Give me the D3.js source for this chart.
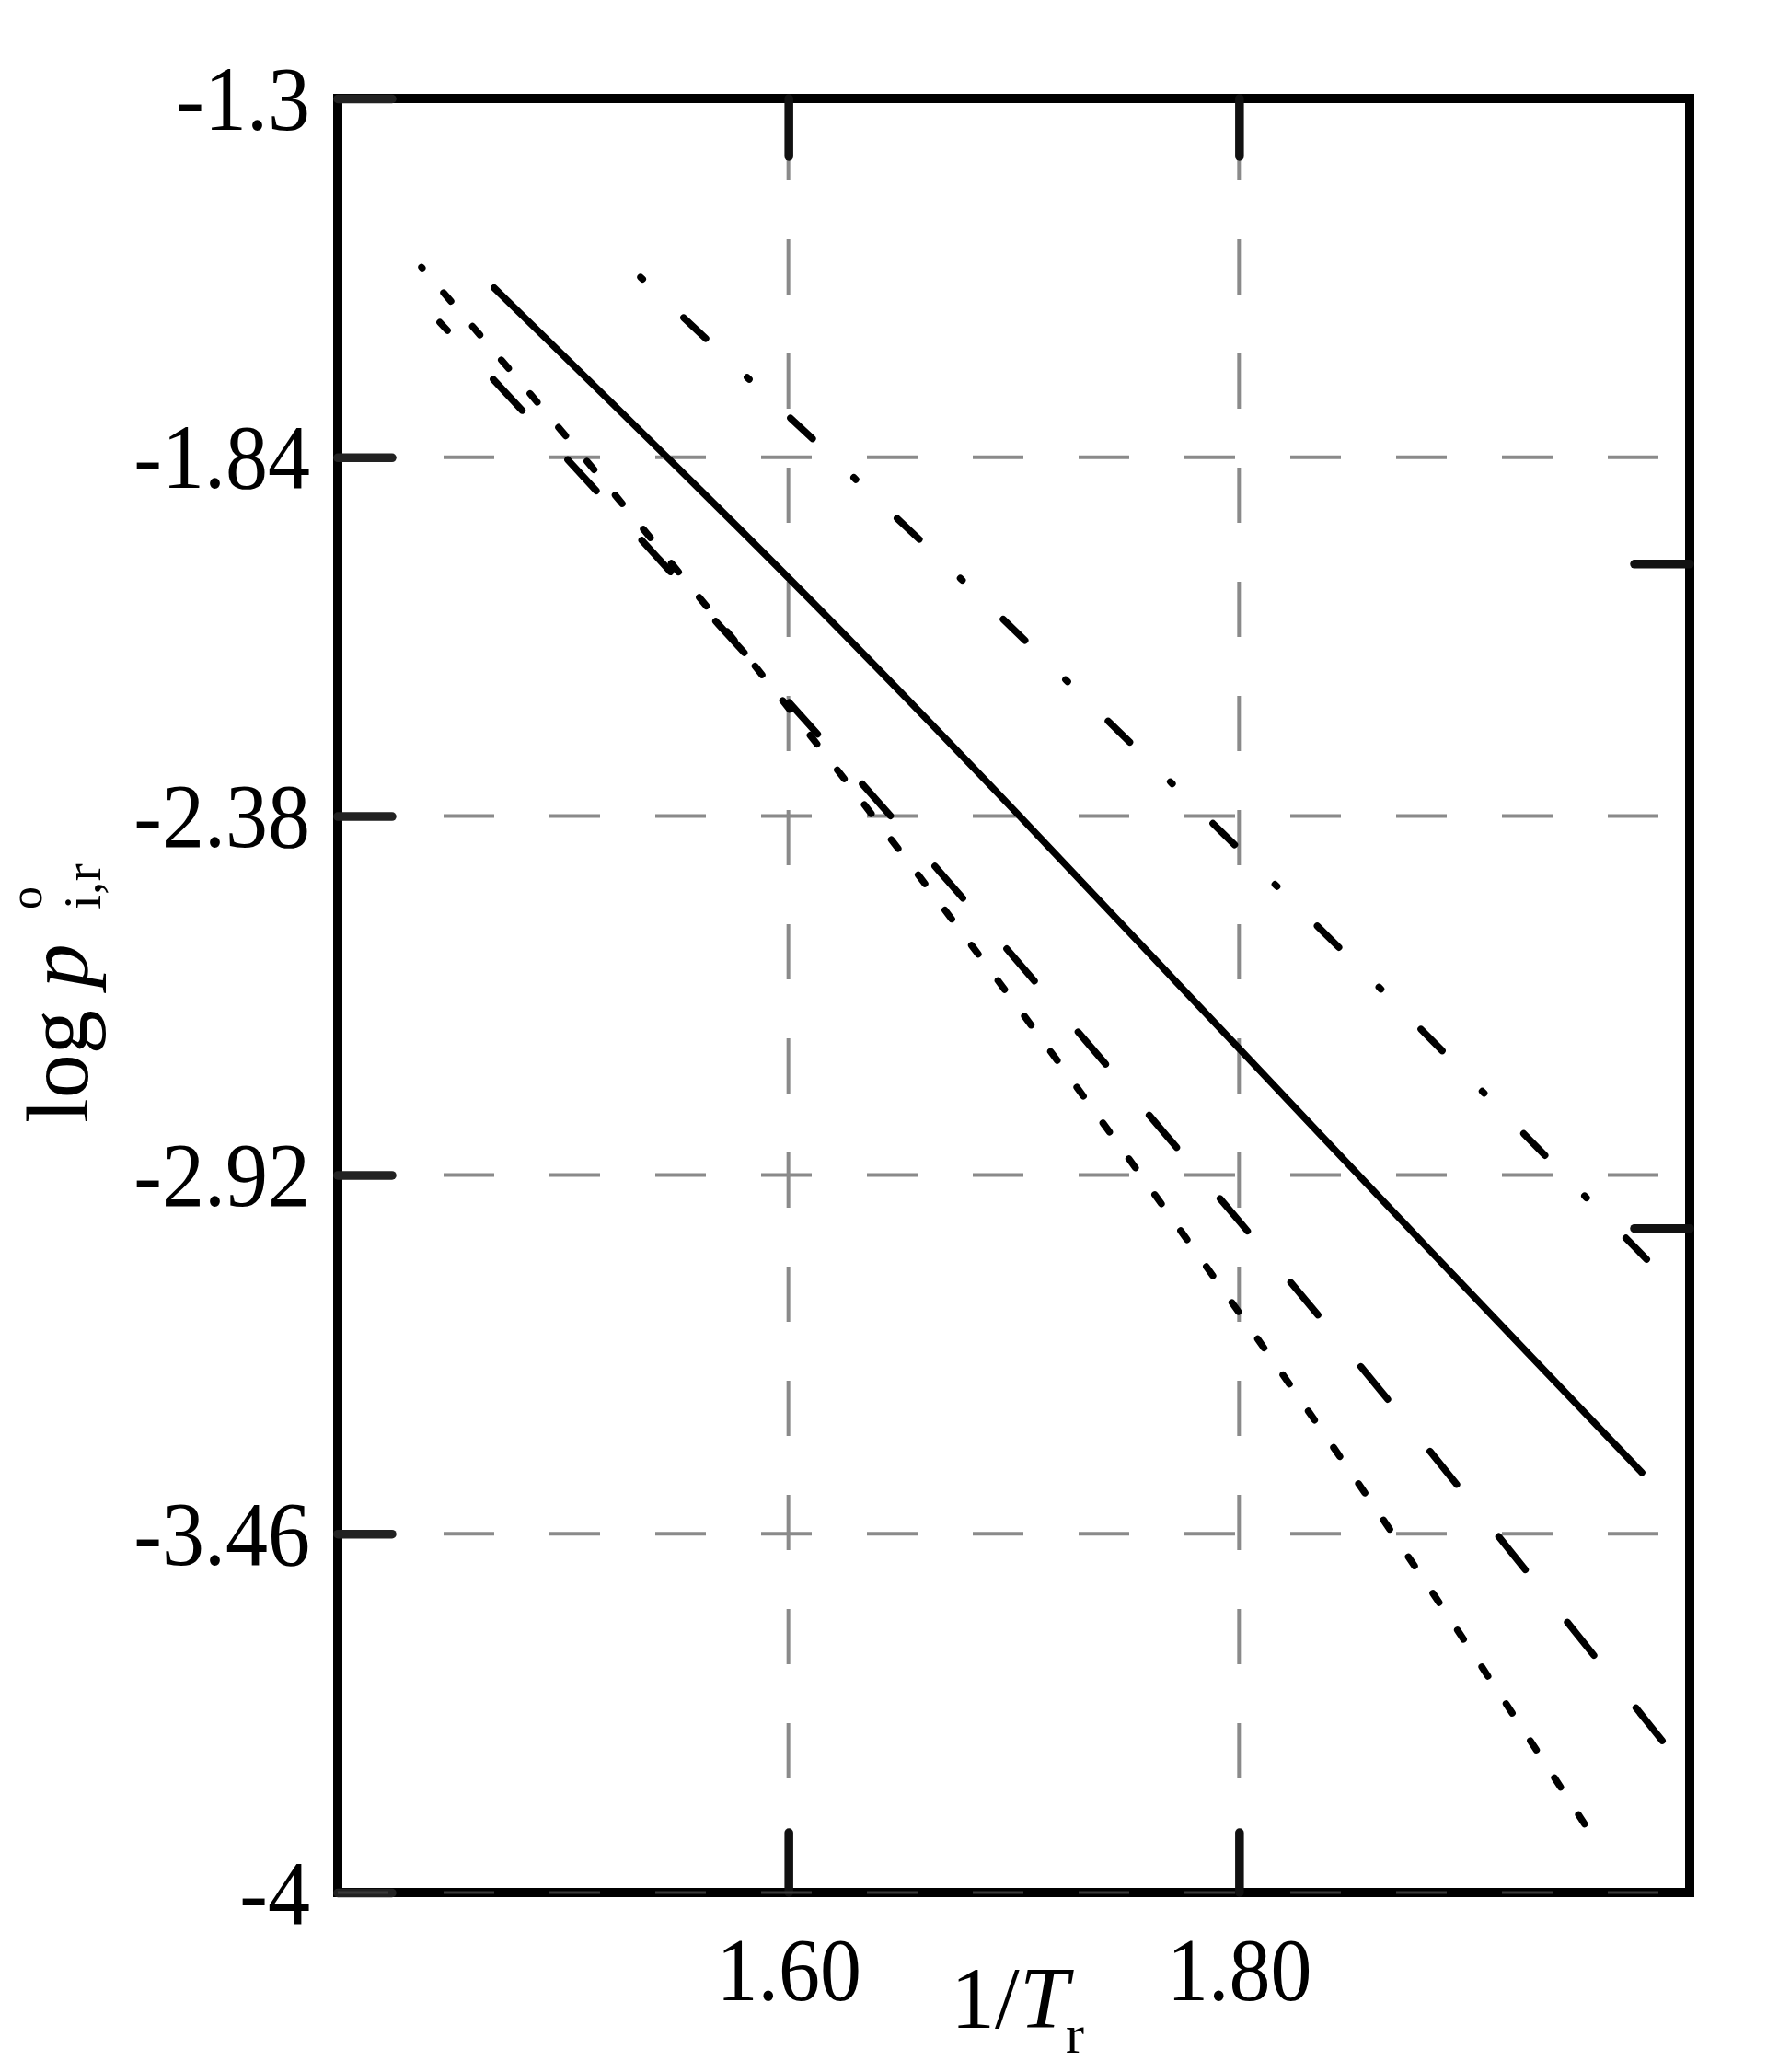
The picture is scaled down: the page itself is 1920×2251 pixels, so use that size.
<!DOCTYPE html>
<html>
<head>
<meta charset="utf-8">
<script src="https://cdn.jsdelivr.net/npm/d3@7"></script>
<style>
  body { margin: 0; background: #fff; }
  text { font-family: "Liberation Serif", "Times New Roman", serif; fill: #000; }
</style>
</head>
<body>
<script>
// tick values
var xTicks = [1.60, 1.80];
var yTicks = [-1.3, -1.84, -2.38, -2.92, -3.46, -4];
var yTicksRight = [-2, -3];

// solid line
var solidX = [1.4694, 1.6002, 1.7019, 1.7995, 1.8824, 1.9788];
var solidY = [-1.585, -2.018, -2.376, -2.728, -3.026, -3.368];

// dash-dot line
var dashDotX = [1.5344, 1.5981, 1.6757, 1.7390, 1.8146, 1.8783, 1.9523, 1.9809];
var dashDotY = [-1.569, -1.772, -2.019, -2.227, -2.478, -2.691, -2.948, -3.047];

// short dashes
var dottedX = [1.4372, 1.4858, 1.5348, 1.5953, 1.6541, 1.7231, 1.8016, 1.8673, 1.9208, 1.9547];
var dottedY = [-1.554, -1.745, -1.944, -2.195, -2.451, -2.763, -3.133, -3.453, -3.727, -3.904];

// long dashes
var longDashX = [1.4453, 1.4764, 1.5426, 1.6083, 1.6733, 1.7370, 1.8003, 1.8636, 1.9249, 1.9936];
var longDashY = [-1.637, -1.749, -1.993, -2.238, -2.486, -2.738, -2.990, -3.246, -3.505, -3.796];

var width = 1920, height = 2251;
var plotLeft = 367, plotRight = 1836, plotTop = 107, plotBottom = 2056;

var svg = d3.select("body").append("svg")
    .attr("width", width)
    .attr("height", height);

var x = d3.scaleLinear().domain([1.4, 2.0]).range([plotLeft, plotRight]);
var y = d3.scaleLinear().domain([-4, -1.3]).range([plotBottom, plotTop]);

// grid
var grid = svg.append("g").attr("class", "grid");
grid.selectAll(".hgrid")
    .data(yTicks.slice(1, -1))
    .enter().append("line")
    .attr("x1", x(1.4)).attr("x2", x(2.0))
    .attr("y1", function(d) { return y(d); })
    .attr("y2", function(d) { return y(d); })
    .attr("stroke", "#8a8a8a")
    .attr("stroke-width", 4)
    .attr("stroke-dasharray", "55,60");
grid.selectAll(".vgrid")
    .data(xTicks)
    .enter().append("line")
    .attr("x1", function(d) { return x(d); })
    .attr("x2", function(d) { return x(d); })
    .attr("y1", y(-4)).attr("y2", y(-1.3))
    .attr("stroke", "#8a8a8a")
    .attr("stroke-width", 4)
    .attr("stroke-dasharray", "60,64");

// frame
svg.append("rect")
    .attr("x", plotLeft).attr("y", plotTop)
    .attr("width", plotRight - plotLeft).attr("height", plotBottom - plotTop)
    .attr("fill", "none")
    .attr("stroke", "#000")
    .attr("stroke-width", 10);

// axes
var yAxis = d3.axisLeft(y)
    .tickValues(yTicks)
    .tickFormat(function(d) { return String(d); })
    .tickSize(-59)
    .tickPadding(30);
var gy = svg.append("g").attr("transform", "translate(" + plotLeft + ",0)").call(yAxis);

var xAxis = d3.axisBottom(x)
    .tickValues(xTicks)
    .tickFormat(d3.format(".2f"))
    .tickSize(-65);
var gx = svg.append("g").attr("transform", "translate(0," + plotBottom + ")").call(xAxis);

var gt = svg.append("g").attr("transform", "translate(0," + plotTop + ")")
    .call(d3.axisTop(x).tickValues(xTicks).tickSize(-63).tickFormat(""));
var gr = svg.append("g").attr("transform", "translate(" + plotRight + ",0)")
    .call(d3.axisRight(y).tickValues(yTicksRight).tickSize(-60).tickFormat(""));

[gy, gx, gt, gr].forEach(function(g) {
    g.select(".domain").remove();
    g.selectAll(".tick line")
        .attr("stroke", "#111")
        .attr("stroke-width", 9.5)
        .attr("stroke-linecap", "round");
});
gy.selectAll(".tick line").attr("stroke", "#222");

gy.selectAll(".tick text")
    .attr("dy", null)
    .attr("font-size", 92)
    .attr("font-family", "Liberation Serif")
    .attr("transform", "translate(0,33) scale(1,1.08)");
gx.selectAll(".tick text")
    .attr("y", null).attr("dy", null)
    .attr("font-size", 90)
    .attr("font-family", "Liberation Serif")
    .attr("transform", "translate(0,117) scale(1,1.09)");

// dark dashes along the bottom edge
svg.append("line")
    .attr("x1", x(1.4)).attr("x2", x(2.0))
    .attr("y1", y(-4)).attr("y2", y(-4))
    .attr("stroke", "#3a3a3a")
    .attr("stroke-width", 3)
    .attr("stroke-dasharray", "55,60");

// series
var line = d3.line()
    .x(function(d) { return x(d[0]); })
    .y(function(d) { return y(d[1]); })
    .curve(d3.curveBasis);

var series = [
    {xs: solidX, ys: solidY, dash: null, offset: 0},
    {xs: dashDotX, ys: dashDotY, dash: "3,61.5,33,61.5", offset: 0},
    {xs: dottedX, ys: dottedY, dash: "12,36", offset: 11},
    {xs: longDashX, ys: longDashY, dash: "46,73", offset: 34}
];

svg.selectAll(".series")
    .data(series)
    .enter().append("path")
    .attr("class", "series")
    .attr("d", function(d) { return line(d3.zip(d.xs, d.ys)); })
    .attr("fill", "none")
    .attr("stroke", "#000")
    .attr("stroke-width", 7.5)
    .attr("stroke-linecap", "round")
    .attr("stroke-dasharray", function(d) { return d.dash; })
    .attr("stroke-dashoffset", function(d) { return d.offset; });

// axis titles
var xt = svg.append("text")
    .attr("x", 1033).attr("y", 2203)
    .attr("font-size", 96);
xt.append("tspan").text("1/");
xt.append("tspan").attr("font-style", "italic").text("T");
svg.append("text")
    .attr("x", 1158).attr("y", 2230)
    .attr("font-size", 60)
    .text("r");

var yt = svg.append("g").attr("transform", "translate(95,1220) rotate(-90)");
var ytt = yt.append("text").attr("x", 0).attr("y", 0).attr("font-size", 96);
ytt.append("tspan").text("log ");
ytt.append("tspan").attr("font-style", "italic").text("p");
yt.append("text").attr("x", 232).attr("y", -50).attr("font-size", 50).text("o");
yt.append("text").attr("x", 232).attr("y", 14).attr("font-size", 58).text("i,r");
</script>
</body>
</html>
